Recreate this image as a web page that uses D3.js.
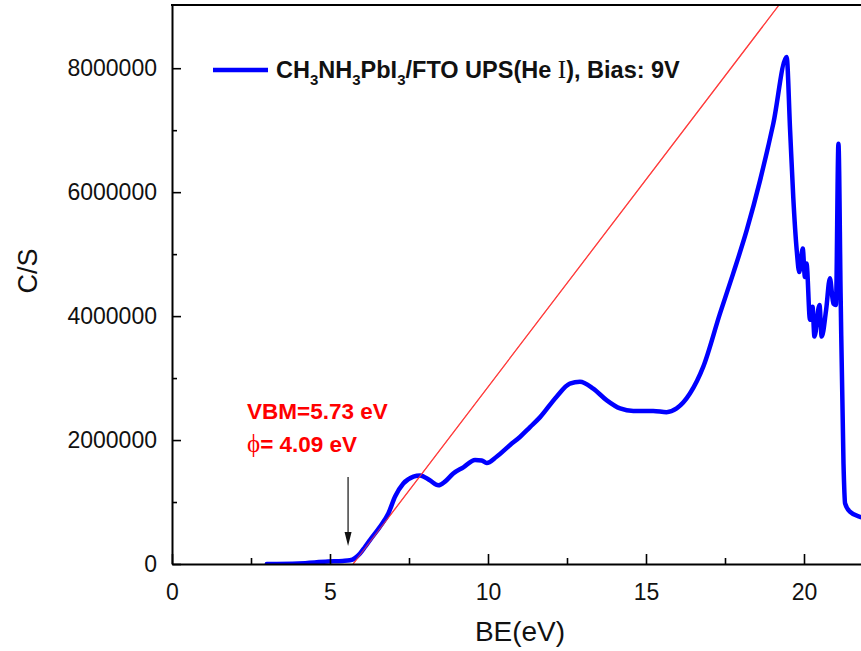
<!DOCTYPE html>
<html>
<head>
<meta charset="utf-8">
<script src="https://cdn.jsdelivr.net/npm/d3@7"></script>
<style>
  body { margin: 0; background: #fff; }
  svg { display: block; }
  text { font-family: "Liberation Sans", Arial, sans-serif; }
</style>
</head>
<body>
<svg id="chart" width="861" height="651"></svg>
<script>
// ---- data ----
const beX = [3.0, 4.0, 4.94, 5.4, 5.63, 5.8, 5.95, 6.1, 6.27, 6.58, 6.85, 7.06, 7.32, 7.64, 7.85, 8.16, 8.43, 8.64, 8.9, 9.22, 9.59, 9.8, 9.96, 10.27, 10.7, 11.01, 11.33, 11.65, 12.17, 12.59, 12.91, 13.33, 13.76, 14.18, 14.6, 15.23, 15.65, 15.97, 16.39, 16.81, 17.34, 17.76, 18.19, 18.61, 19.03, 19.45, 19.56, 19.66, 19.77, 19.85, 19.96, 20.03, 20.08, 20.19, 20.27, 20.33, 20.49, 20.56, 20.7, 20.82, 20.93, 21.01, 21.09, 21.16, 21.25, 21.3, 21.46, 21.77, 22.5];
const countsM = [0.0, 0.01, 0.04, 0.05, 0.06, 0.1, 0.17, 0.27, 0.39, 0.6, 0.82, 1.09, 1.30, 1.41, 1.43, 1.35, 1.27, 1.33, 1.46, 1.56, 1.68, 1.67, 1.63, 1.73, 1.92, 2.05, 2.21, 2.37, 2.70, 2.91, 2.94, 2.83, 2.64, 2.51, 2.47, 2.47, 2.45, 2.51, 2.75, 3.18, 4.04, 4.69, 5.39, 6.19, 7.11, 8.18, 7.0, 5.92, 5.06, 4.71, 5.09, 4.63, 4.85, 3.94, 4.15, 3.67, 4.18, 3.67, 4.10, 4.61, 4.20, 4.18, 6.78, 4.31, 1.62, 0.98, 0.84, 0.76, 0.70];
const fitX = [5.73, 19.21];
const fitY = [0, 9020000];
const xMajorTicks = [0, 5, 10, 15, 20];
const xMinorTicks = [2.5, 7.5, 12.5, 17.5];
const yMajorTicks = [0, 2000000, 4000000, 6000000, 8000000];
const yMinorTicks = [1000000, 3000000, 5000000, 7000000];
const legendParts = [["CH", "n"], ["3", "s"], ["NH", "n"], ["3", "s"], ["PbI", "n"], ["3", "s"], ["/FTO UPS(He ", "n"], ["I", "r"], ["), Bias: 9V", "n"]];
const annot1 = "VBM=5.73 eV";
const annot2 = "= 4.09 eV";
const vbm = 5.73;

// ---- layout ----
const svg = d3.select("#chart");
const pLeft = 172, pBottom = 564, pTop = 5, pRight = 962;
const x = d3.scaleLinear().domain([0, 25]).range([pLeft, pRight]);
const y = d3.scaleLinear().domain([0, 9020000]).range([pBottom, pTop]);

svg.append("defs").append("clipPath").attr("id", "plotclip")
  .append("rect").attr("x", pLeft).attr("y", pTop).attr("width", pRight - pLeft).attr("height", pBottom - pTop);

const fitLine = d3.line().x(d => x(d[0])).y(d => y(d[1]));
const fitData = fitX.map((d, i) => [d, fitY[i]]);

// red fit line
svg.append("path")
  .datum(fitData)
  .attr("clip-path", "url(#plotclip)")
  .attr("fill", "none").attr("stroke", "#ff3b3b").attr("stroke-width", 1.1)
  .attr("d", fitLine);

// blue spectrum
const data = beX.map((d, i) => [d, countsM[i] * 1e6]);
svg.append("path")
  .datum(data)
  .attr("clip-path", "url(#plotclip)")
  .attr("fill", "none").attr("stroke", "#0000ff").attr("stroke-width", 4.5)
  .attr("stroke-linejoin", "round").attr("stroke-linecap", "round")
  .attr("d", d3.line().curve(d3.curveMonotoneX).x(d => x(d[0])).y(d => y(d[1])));

// red fit line drawn again on top (visible across blue near onset)
svg.append("path")
  .datum(fitData)
  .attr("clip-path", "url(#plotclip)")
  .attr("fill", "none").attr("stroke", "#ff3b3b").attr("stroke-width", 1.1).attr("opacity", 0.8)
  .attr("d", fitLine);

// axes
svg.append("g").attr("transform", `translate(0,${pBottom})`)
  .call(d3.axisBottom(x).tickValues(xMajorTicks).tickSize(-10).tickSizeOuter(0).tickPadding(20).tickFormat(d3.format("d")));
svg.append("g").attr("transform", `translate(0,${pBottom})`)
  .call(d3.axisBottom(x).tickValues(xMinorTicks).tickSize(-6).tickSizeOuter(0).tickFormat(""))
  .select(".domain").remove();
svg.append("g").attr("transform", `translate(${pLeft},0)`)
  .call(d3.axisLeft(y).tickValues(yMajorTicks).tickSize(-9).tickSizeOuter(0).tickPadding(15).tickFormat(d3.format("d")));
svg.append("g").attr("transform", `translate(${pLeft},0)`)
  .call(d3.axisLeft(y).tickValues(yMinorTicks).tickSize(-5).tickSizeOuter(0).tickFormat(""))
  .select(".domain").remove();

svg.selectAll(".domain").attr("stroke", "#000").attr("stroke-width", 2);
svg.selectAll(".tick line").attr("stroke", "#000").attr("stroke-width", 1.6);
svg.selectAll(".tick text").attr("fill", "#111").attr("font-size", 23)
  .attr("font-family", "'Liberation Sans', Arial, sans-serif");

// top border
svg.append("line").attr("x1", pLeft - 1).attr("x2", 861).attr("y1", pTop).attr("y2", pTop)
  .attr("stroke", "#000").attr("stroke-width", 2);

// axis titles
svg.append("text").attr("x", 520).attr("y", 641).attr("text-anchor", "middle")
  .attr("font-size", 28).attr("fill", "#111").text("BE(eV)");
svg.append("text").attr("transform", "translate(37,271) rotate(-90)").attr("text-anchor", "middle")
  .attr("font-size", 27).attr("fill", "#111").text("C/S");

// legend
svg.append("line").attr("x1", 213).attr("x2", 268).attr("y1", 70).attr("y2", 70)
  .attr("stroke", "#0000ff").attr("stroke-width", 4.5);
const lt = svg.append("text").attr("x", 276).attr("y", 78).attr("font-size", 23.5).attr("font-weight", "bold").attr("fill", "#111");
legendParts.forEach(([t, k], i) => {
  const s = lt.append("tspan").text(t);
  if (k === "s") s.attr("font-size", 15).attr("dy", 7);
  else if (i > 0 && legendParts[i - 1][1] === "s") s.attr("dy", -7);
  if (k === "r") s.attr("font-family", "'Liberation Serif', serif").attr("font-weight", "normal").attr("font-size", 25);
});

// annotations
svg.append("text").attr("x", 247).attr("y", 419).attr("font-size", 22.5).attr("font-weight", "bold")
  .attr("fill", "#ff0000").text(annot1);
const a2 = svg.append("text").attr("x", 247).attr("y", 452).attr("font-size", 22.5).attr("font-weight", "bold")
  .attr("fill", "#ff0000");
a2.append("tspan").attr("font-family", "'Liberation Serif', 'DejaVu Serif', serif").attr("font-weight", "normal").attr("font-size", 25).text("ϕ");
a2.append("tspan").text(annot2);

// arrow
const ax = x(vbm) - 5;
svg.append("line").attr("x1", ax).attr("x2", ax).attr("y1", 477).attr("y2", 537)
  .attr("stroke", "#111").attr("stroke-width", 1.2);
svg.append("path").attr("d", `M${ax - 3.5},532 L${ax + 3.5},532 L${ax},546 Z`).attr("fill", "#111");
</script>
</body>
</html>
